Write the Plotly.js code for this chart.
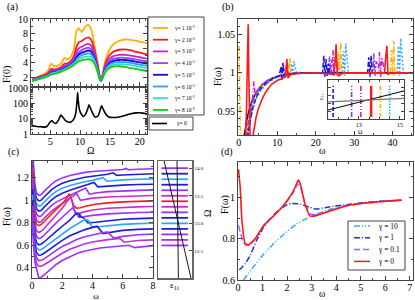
<!DOCTYPE html>
<html><head><meta charset="utf-8">
<script src="https://cdn.plot.ly/plotly-3.0.1.min.js"></script>
<style>html,body{margin:0;padding:0;background:#fff}#plot{width:415px;height:300px}</style>
</head><body><div id="plot"></div>
<script>
// ---------- panel (a) ----------
const OMEGA_A = [2,3,4,4.6,5.2,5.6,6.2,6.8,7.4,7.8,8.4,9,9.4,9.8,10.3,10.8,11.4,11.9,12.4,12.9,13.3,13.5,13.8,14.2,14.8,15.5,16.5,17.5,18.5,19.5,20.5,21.2];
const F_A_1 = [1.75,2.15,2.5,2.9,3.9,3.6,3.6,3.9,4.7,4.5,4.8,6.0,8.3,8.7,8.2,8.9,9.2,8.5,6.5,4.2,2.2,1.55,2.6,4.2,5.6,6.5,7.0,7.2,7.15,7.0,6.8,6.7];
const F_A_2 = [1.7,2.05,2.35,2.6,3.2,3.1,3.2,3.4,3.9,3.9,4.2,5.0,6.2,6.8,7.0,7.3,7.5,7.1,5.8,3.9,2.1,1.55,2.4,3.8,4.9,5.5,5.8,5.85,5.7,5.5,5.3,5.15];
const F_A_3 = [1.65,2.0,2.25,2.5,2.95,2.95,3.05,3.25,3.6,3.7,4.0,4.6,5.5,6.0,6.2,6.45,6.6,6.3,5.3,3.6,2.0,1.55,2.3,3.5,4.4,4.9,5.1,5.1,5.0,4.85,4.7,4.6];
const F_A_4 = [1.6,1.95,2.2,2.4,2.8,2.85,2.95,3.15,3.45,3.55,3.85,4.4,5.1,5.5,5.75,5.95,6.1,5.85,4.95,3.45,1.95,1.55,2.2,3.3,4.1,4.55,4.7,4.7,4.6,4.45,4.3,4.2];
const F_A_5 = [1.6,1.9,2.15,2.35,2.7,2.75,2.85,3.05,3.3,3.45,3.75,4.2,4.75,5.15,5.4,5.55,5.7,5.5,4.7,3.3,1.9,1.55,2.15,3.15,3.85,4.25,4.4,4.4,4.3,4.15,4.0,3.9];
const F_A_6 = [1.55,1.85,2.1,2.3,2.6,2.65,2.8,2.95,3.2,3.35,3.65,4.05,4.45,4.8,5.05,5.2,5.3,5.15,4.45,3.15,1.85,1.55,2.1,3.0,3.65,4.0,4.1,4.1,4.0,3.85,3.7,3.6];
const F_A_7 = [1.55,1.8,2.05,2.25,2.5,2.6,2.7,2.9,3.1,3.25,3.55,3.9,4.2,4.5,4.7,4.85,4.9,4.8,4.2,3.0,1.8,1.55,2.05,2.85,3.45,3.75,3.85,3.8,3.7,3.55,3.4,3.3];
const F_A_8 = [1.5,1.75,2.0,2.2,2.4,2.5,2.6,2.8,3.0,3.15,3.4,3.75,4.0,4.2,4.35,4.45,4.5,4.4,3.95,2.85,1.75,1.55,2.0,2.7,3.25,3.5,3.55,3.45,3.3,3.15,3.0,2.9];
const GAMMA_A_LABELS = ['1','2','3','4','5','6','7','8'];
const OMEGA_A0 = [1.9,2.5,3,3.5,4,4.5,5,5.3,5.6,6,6.4,6.8,7.1,7.5,8,8.5,9,9.3,9.5,9.6,9.7,9.9,10.2,10.6,11,11.3,11.5,11.7,12,12.5,13,13.3,13.6,13.9,14.3,14.8,15.5,16.5,17.5,18.5,19.5,20.5,21.2];
const F_A0 = [3.5,3.2,3.0,3.0,2.8,3.2,6,7.5,5.5,5,8,17,13,8,6,6,10,25,150,500,150,40,20,14,22,45,80,55,28,13,15,30,68,40,20,13,12,13,16,21,24,23,21];

// ---------- panel (b) ----------
const W_B_BLACK = [1.3,1.8,2.3,2.9,3.6,4.5,5.5,6.5,8,10,12,15,20,30,45.3];
const F_B_BLACK = [0.915,0.93,0.944,0.955,0.965,0.974,0.981,0.986,0.991,0.995,0.997,0.999,1.0,1.0,1.0];
const W_B_RED = [1.6,2.0,2.3,2.45,2.6,2.8,3.0,3.5,4.0,4.5,5,6,7,8.5,10,11.5,12.2,12.5,12.8,13.3,15,20,24.6,25.0,25.3,25.6,26.0,27,35,37.9,38.2,38.5,38.8,39.5,42,45.3];
const F_B_RED = [0.90,0.95,1.03,1.063,1.0,0.92,0.90,0.912,0.93,0.942,0.952,0.965,0.975,0.985,0.99,0.993,0.995,1.018,0.993,0.997,0.999,1.0,0.998,1.01,1.037,0.998,0.996,1.0,1.0,1.0,1.02,1.035,0.998,1.0,1.0,1.0];
const W_B_BLUE = [2.2,2.8,3.5,4.3,5.2,6.3,7.5,9,10.5,11.0,11.2,11.5,11.8,12.5,14,16,20,21.8,22.1,22.4,22.7,23.0,23.3,23.6,25,30,33.5,33.8,34.1,34.4,34.7,36,40,45.3];
const F_B_BLUE = [0.915,0.935,0.952,0.965,0.975,0.983,0.988,0.993,0.996,1.008,0.99,1.013,0.994,0.998,0.999,1.0,1.0,1.0,1.022,0.995,1.018,0.996,1.012,1.0,1.0,1.0,1.0,1.02,0.995,1.022,1.0,1.0,1.0,1.0];
const W_B_PURPLE = [2.0,2.6,3.2,4,5,6,7.5,9,11,11.7,12.0,12.3,13,16,22,23.3,23.6,23.9,24.2,25,30,34.8,35.1,35.4,35.7,37,45.3];
const F_B_PURPLE = [0.915,0.94,0.956,0.968,0.978,0.985,0.99,0.994,0.997,1.01,0.995,1.008,0.999,1.0,1.0,1.0,1.021,0.997,1.017,1.0,1.0,1.0,1.025,0.996,1.015,1.0,1.0];
const W_B_MAGENTA = [2.3,2.9,3.5,3.9,4.2,4.5,5,6,7.5,9,11,14,20,24.2,24.5,24.8,25.1,26,30,36.3,36.6,36.9,37.2,38,45.3];
const F_B_MAGENTA = [0.915,0.94,0.96,0.99,0.975,0.97,0.976,0.984,0.99,0.994,0.997,0.999,1.0,1.0,1.03,0.996,1.02,1.0,1.0,1.0,1.027,0.995,1.02,1.0,1.0];
const W_B_GOLD = [0.05,0.25,0.5,1.9,2.5,3.2,4.1,5.2,6.5,8,10,12.4,12.7,13.0,13.3,13.6,14.5,20,25.6,25.9,26.2,26.5,26.8,28,30,39.4,39.7,40.0,40.3,40.6,42,45.3];
const F_B_GOLD = [1.035,0.98,0.90,0.915,0.94,0.956,0.968,0.978,0.985,0.99,0.995,0.998,1.012,0.996,1.019,0.998,1.0,1.0,1.0,1.025,0.996,1.04,0.998,1.0,1.0,1.0,1.03,0.996,1.042,0.998,1.0,1.0];
const W_B_LBLUE = [2.4,3.0,3.7,4.6,5.6,7,8.5,10,12,13.4,13.7,14.0,14.3,15,20,26.9,27.2,27.5,27.8,28.5,35,41.2,41.5,41.8,42.1,42.8,45.3];
const F_B_LBLUE = [0.915,0.937,0.953,0.966,0.976,0.985,0.99,0.994,0.997,0.999,1.012,0.996,1.015,1.0,1.0,1.0,1.028,0.996,1.038,1.0,1.0,1.0,1.035,0.996,1.045,1.0,1.0];
// inset of (b)
const INSET_OMEGA = [11.75,12.65,13.1,13.6,14.05,14.5];
const INSET_LINE_X = [11.5,15.2];
const INSET_EPS_A = [0.23,0.72];
const INSET_EPS_B = [0.44,0.53];
const INSET_BAR_Y = [0.05,0.85];

// ---------- panel (c) ----------
const OMEGA_C = [14.0,13.9,13.8,13.7,13.6,13.5,13.4,13.3,13.2,13.1,13.0,12.9,12.8,12.7,12.6];
const W_C = [
 [0.03,0.1,0.2,0.3,0.45,0.6,0.8,1.0,1.3,1.6,2.0,2.5,3.0,3.5,4.0,5.0,6.0,6.2,6.4,7.0,8.0],
 [0.03,0.1,0.2,0.3,0.45,0.6,0.8,1.0,1.3,1.6,2.0,2.5,3.0,3.5,4.0,4.5,5.0,5.35,5.6,6.0,7.0,8.0],
 [0.03,0.1,0.2,0.3,0.45,0.6,0.8,1.0,1.3,1.6,2.0,2.5,3.0,3.5,4.0,4.4,4.7,4.95,5.5,6.0,7.0,8.0],
 [0.03,0.1,0.2,0.3,0.45,0.6,0.8,1.0,1.3,1.6,2.0,2.5,3.0,3.5,3.8,4.1,4.35,5.0,6.0,7.0,8.0],
 [0.03,0.1,0.2,0.3,0.45,0.6,0.8,1.0,1.3,1.6,2.0,2.5,3.0,3.3,3.55,3.8,4.2,5.0,6.0,7.0,8.0],
 [0.03,0.1,0.2,0.3,0.45,0.6,0.8,1.0,1.3,1.6,2.0,2.4,2.7,2.95,3.2,3.5,4.0,5.0,6.0,7.0,8.0],
 [0.03,0.1,0.2,0.3,0.45,0.6,0.8,1.0,1.3,1.6,2.0,2.25,2.45,2.55,2.75,2.95,3.2,3.6,4.2,5.0,6.0,7.0,8.0],
 [0.03,0.1,0.2,0.3,0.45,0.6,0.8,1.0,1.3,1.6,2.0,2.3,2.55,2.85,3.1,3.5,4.0,5.0,6.0,7.0,8.0],
 [0.03,0.1,0.2,0.3,0.45,0.6,0.8,1.0,1.3,1.6,2.0,2.4,2.7,2.85,3.1,3.4,4.0,5.0,6.0,7.0,8.0],
 [0.03,0.1,0.2,0.3,0.45,0.6,0.8,1.0,1.3,1.6,2.0,2.5,2.85,3.0,3.2,3.1,3.4,3.7,4.2,5.0,6.0,7.0,8.0],
 [0.03,0.1,0.2,0.3,0.45,0.6,0.8,1.0,1.3,1.6,2.0,2.5,3.0,3.5,3.7,4.0,4.4,5.0,6.0,7.0,8.0],
 [0.03,0.1,0.2,0.3,0.45,0.6,0.8,1.0,1.3,1.6,2.0,2.5,3.0,3.5,4.0,4.3,4.7,5.2,6.0,7.0,8.0],
 [0.03,0.1,0.2,0.3,0.45,0.6,0.8,1.0,1.3,1.6,2.0,2.5,3.0,3.5,4.0,4.5,5.0,5.4,6.0,7.0,8.0],
 [0.03,0.1,0.2,0.3,0.45,0.6,0.8,1.0,1.3,1.6,2.0,2.5,3.0,3.5,4.0,4.5,5.0,5.5,5.8,6.1,7.0,8.0],
 [0.03,0.1,0.2,0.3,0.45,0.6,0.8,1.0,1.3,1.6,2.0,2.5,3.0,3.5,4.0,4.5,5.0,5.5,6.0,6.4,6.8,7.3,8.0]
];
const F_C = [
 [1.55,1.3,1.13,1.065,1.045,1.05,1.08,1.11,1.145,1.175,1.2,1.222,1.238,1.249,1.256,1.266,1.275,1.284,1.272,1.277,1.281],
 [1.5,1.25,1.08,1.015,0.995,1.0,1.03,1.06,1.095,1.125,1.152,1.175,1.192,1.205,1.215,1.223,1.232,1.245,1.222,1.226,1.232,1.236],
 [1.45,1.2,1.035,0.97,0.95,0.955,0.985,1.015,1.05,1.08,1.108,1.132,1.15,1.165,1.178,1.188,1.202,1.17,1.177,1.182,1.188,1.191],
 [1.4,1.15,0.99,0.925,0.905,0.91,0.94,0.97,1.005,1.035,1.063,1.09,1.11,1.13,1.145,1.16,1.12,1.128,1.136,1.141,1.144],
 [1.35,1.1,0.94,0.875,0.855,0.86,0.89,0.92,0.955,0.985,1.015,1.045,1.075,1.095,1.11,1.055,1.065,1.078,1.085,1.09,1.093],
 [1.3,1.05,0.89,0.825,0.805,0.81,0.84,0.87,0.905,0.935,0.97,1.005,1.035,1.06,1.0,1.01,1.02,1.03,1.036,1.04,1.043],
 [1.25,1.0,0.84,0.785,0.775,0.785,0.81,0.84,0.88,0.92,0.97,1.01,1.055,1.04,0.955,0.93,0.935,0.95,0.965,0.978,0.987,0.993,0.996],
 [1.2,0.95,0.79,0.73,0.715,0.725,0.75,0.78,0.825,0.87,0.93,0.985,1.035,0.89,0.885,0.9,0.915,0.93,0.938,0.942,0.945],
 [1.15,0.9,0.74,0.68,0.66,0.668,0.69,0.72,0.76,0.8,0.85,0.9,0.935,0.9,0.85,0.855,0.867,0.88,0.888,0.892,0.895],
 [1.1,0.85,0.69,0.625,0.605,0.61,0.63,0.655,0.69,0.725,0.77,0.825,0.875,0.885,0.87,0.86,0.845,0.8,0.805,0.82,0.832,0.838,0.842],
 [1.05,0.8,0.645,0.58,0.56,0.563,0.58,0.6,0.635,0.665,0.705,0.75,0.79,0.83,0.825,0.76,0.765,0.775,0.787,0.793,0.797],
 [1.0,0.75,0.6,0.535,0.512,0.514,0.53,0.55,0.58,0.61,0.645,0.685,0.715,0.74,0.76,0.77,0.705,0.715,0.733,0.742,0.747],
 [0.95,0.7,0.555,0.49,0.465,0.466,0.48,0.5,0.528,0.555,0.59,0.625,0.655,0.677,0.695,0.708,0.72,0.665,0.68,0.694,0.70],
 [0.9,0.65,0.505,0.44,0.415,0.415,0.428,0.446,0.472,0.498,0.53,0.565,0.593,0.614,0.63,0.642,0.651,0.658,0.662,0.628,0.643,0.649],
 [0.85,0.6,0.45,0.38,0.31,0.315,0.335,0.36,0.395,0.43,0.465,0.5,0.53,0.55,0.565,0.576,0.584,0.59,0.596,0.601,0.58,0.59,0.598]
];
const SIDE_LINE_X = [0.1,0.88];
const EPS_C_A_X = [0.18,0.97];
const EPS_C_B_X = [0.56,0.60];
const EPS_C_Y = [14.13,12.01];

// ---------- panel (d) ----------
const W_D_0 = [0.02,0.09,0.16,0.29,0.43,0.7,1.04,1.4,1.72,2.0,2.26,2.46,2.53,2.73,2.93,3.14,3.75,4.43,5.1,5.78,6.66];
const F_D_0 = [1.137,1.048,0.887,0.777,0.77,0.8,0.863,0.905,0.943,0.984,1.032,1.084,1.07,0.968,0.911,0.911,0.935,0.96,0.972,0.98,0.987];
const W_D_01 = [0.02,0.1,0.2,0.3,0.45,0.7,1.04,1.4,1.72,2.0,2.26,2.43,2.53,2.73,2.93,3.14,3.75,4.43,5.1,5.78,6.66];
const F_D_01 = [0.865,0.83,0.79,0.77,0.77,0.8,0.863,0.905,0.943,0.982,1.025,1.065,1.055,0.97,0.92,0.918,0.937,0.96,0.972,0.98,0.987];
const W_D_1 = [0.05,0.3,0.5,0.75,1.04,1.4,1.72,2.0,2.2,2.53,2.93,3.2,3.75,4.43,5.1,5.78,6.66];
const F_D_1 = [0.648,0.68,0.72,0.79,0.855,0.91,0.945,0.965,0.971,0.968,0.952,0.944,0.955,0.965,0.975,0.982,0.987];
const W_D_10 = [0.22,0.6,1.04,1.4,1.72,2.0,2.39,2.7,3.07,3.4,3.75,4.43,5.1,5.78,6.66];
const F_D_10 = [0.6,0.66,0.725,0.77,0.806,0.835,0.871,0.893,0.911,0.928,0.943,0.96,0.972,0.98,0.987];
const GAMMA_D_LABELS = ['10','1','0.1','0'];

// ---------- styling ----------
const FONT = 'Liberation Serif';
const COL_A = ['#ffb000','#ff1a1a','#cc22cc','#9a40ff','#1010d0','#3399ff','#33ddcc','#11cc11'];
const COL_C = ['#9a33ff','#1f1fd0','#2aa8ff','#1f1fd0','#9a33ff','#c030d0','#ff1a1a','#c030d0','#9a33ff','#1f1fd0','#2aa8ff','#1f1fd0','#9a33ff','#c030d0','#9a33ff'];
const COL_D = ['#33aaff','#2233dd','#9966ff','#ff1a1a'];
const DASH_D = ['6px,2px,1px,2px,1px,2px','6px,2px,1px,2px','6px,3px','solid'];

const traces = [];
const FA = [F_A_1,F_A_2,F_A_3,F_A_4,F_A_5,F_A_6,F_A_7,F_A_8];
FA.forEach((f,i)=>traces.push({x:OMEGA_A,y:f,xaxis:'x',yaxis:'y',mode:'lines',line:{color:COL_A[i],width:1.8,shape:'spline',smoothing:0.6}}));
traces.push({x:OMEGA_A0,y:F_A0,xaxis:'x2',yaxis:'y2',mode:'lines',line:{color:'#000',width:1.6,shape:'spline',smoothing:0.5}});

traces.push({x:W_B_BLACK,y:F_B_BLACK,xaxis:'x3',yaxis:'y3',mode:'lines',line:{color:'#000',width:1.5}});
traces.push({x:W_B_LBLUE,y:F_B_LBLUE,xaxis:'x3',yaxis:'y3',mode:'lines',line:{color:'#33aaff',width:1.5,dash:'2px,2px'}});
traces.push({x:W_B_GOLD,y:F_B_GOLD,xaxis:'x3',yaxis:'y3',mode:'lines',line:{color:'#ffb300',width:1.5,dash:'5px,2px,1px,2px'}});
traces.push({x:W_B_MAGENTA,y:F_B_MAGENTA,xaxis:'x3',yaxis:'y3',mode:'lines',line:{color:'#cc22cc',width:1.5,dash:'5px,2px,1px,2px,1px,2px'}});
traces.push({x:W_B_PURPLE,y:F_B_PURPLE,xaxis:'x3',yaxis:'y3',mode:'lines',line:{color:'#9933ff',width:1.5,dash:'6px,2px,2px,2px'}});
traces.push({x:W_B_BLUE,y:F_B_BLUE,xaxis:'x3',yaxis:'y3',mode:'lines',line:{color:'#1a1ad0',width:1.5,dash:'5px,2px'}});
traces.push({x:W_B_RED,y:F_B_RED,xaxis:'x3',yaxis:'y3',mode:'lines',line:{color:'#ff1a1a',width:1.6}});
// inset
const INSET_COL = ['#1a1ad0','#9933ff','#cc22cc','#ff1a1a','#ffb300','#33aaff'];
const INSET_DASH = ['4px,2px','5px,2px,1px,2px','5px,2px,1px,2px,1px,2px','solid','4px,2px,1px,2px','1.5px,1.5px'];
INSET_OMEGA.forEach((o,i)=>traces.push({x:[o,o],y:INSET_BAR_Y,xaxis:'x4',yaxis:'y4',mode:'lines',line:{color:INSET_COL[i],width:i===3?2.5:1.6,dash:INSET_DASH[i]}}));
traces.push({x:INSET_LINE_X,y:INSET_EPS_A,xaxis:'x4',yaxis:'y4',mode:'lines',line:{color:'#000',width:1}});
traces.push({x:INSET_LINE_X,y:INSET_EPS_B,xaxis:'x4',yaxis:'y4',mode:'lines',line:{color:'#777',width:1.2}});

// (c)
W_C.forEach((w,i)=>traces.push({x:w,y:F_C[i],xaxis:'x5',yaxis:'y5',mode:'lines',line:{color:COL_C[i],width:1.6}}));
OMEGA_C.forEach((o,i)=>traces.push({x:SIDE_LINE_X,y:[o,o],xaxis:'x6',yaxis:'y6',mode:'lines',line:{color:COL_C[i],width:1.8}}));
traces.push({x:EPS_C_A_X,y:EPS_C_Y,xaxis:'x6',yaxis:'y6',mode:'lines',line:{color:'#000',width:0.9}});
traces.push({x:EPS_C_B_X,y:EPS_C_Y,xaxis:'x6',yaxis:'y6',mode:'lines',line:{color:'#000',width:0.9}});

// (d)
[[W_D_10,F_D_10],[W_D_1,F_D_1],[W_D_01,F_D_01],[W_D_0,F_D_0]].forEach((p,i)=>traces.push({x:p[0],y:p[1],xaxis:'x7',yaxis:'y7',mode:'lines',line:{color:COL_D[i],width:i===3?1.6:1.5,dash:DASH_D[i],shape:'spline',smoothing:0.4}}));

traces.forEach(t=>{t.showlegend=false;t.hoverinfo='skip';});

function ax(o){
  return Object.assign({showgrid:false,zeroline:false,showline:true,linecolor:'#444',linewidth:1,mirror:'allticks',
    ticks:'inside',ticklen:4,tickcolor:'#444',tickfont:{family:FONT,size:10,color:'#000'},
    minor:{ticks:'inside',ticklen:2,tickcolor:'#444',showgrid:false}},o);
}
const P = (px)=>px/415, Q=(py)=>1-py/300;

const layout = {
  width:415,height:300,margin:{l:0,r:0,t:0,b:0},paper_bgcolor:'#fff',plot_bgcolor:'#fff',showlegend:false,
  font:{family:FONT,size:10,color:'#000'},
  xaxis: ax({anchor:'y',domain:[P(31),P(147)],range:[1.8,21.2],dtick:5,tick0:0,showticklabels:false,minor:{ticks:'inside',ticklen:2,tickcolor:'#444',dtick:1}}),
  yaxis: ax({anchor:'x',domain:[Q(86),Q(19)],range:[0.85,10],dtick:2,tick0:0,minor:{ticks:'inside',ticklen:2,tickcolor:'#444',dtick:1}}),
  xaxis2: ax({anchor:'y2',domain:[P(31),P(147)],range:[1.8,21.2],dtick:5,tick0:0,ticklabelstandoff:-2,minor:{ticks:'inside',ticklen:2,tickcolor:'#444',dtick:1}}),
  yaxis2: ax({anchor:'x2',domain:[Q(134),Q(88)],type:'log',range:[0,3],tickvals:[1,10,100,1000],ticktext:['1','10','100','1000'],
      minor:{ticks:'inside',ticklen:2,tickcolor:'#444',tickvals:[2,3,4,5,6,7,8,9,20,30,40,50,60,70,80,90,200,300,400,500,600,700,800,900]}}),
  xaxis3: ax({anchor:'y3',domain:[P(238),P(413)],range:[-0.2,45.3],dtick:10,tick0:0,ticklabelstandoff:-2,minor:{ticks:'inside',ticklen:2,tickcolor:'#444',dtick:5}}),
  yaxis3: ax({anchor:'x3',domain:[Q(135),Q(19)],range:[0.919,1.07],tickvals:[0.95,1,1.05],ticktext:['0.95','1','1.05'],minor:{ticks:'inside',ticklen:2,tickcolor:'#444',dtick:0.01,tick0:0}}),
  xaxis4: ax({anchor:'y4',domain:[P(328),P(404)],range:[11.5,15.2],tickvals:[13,15],ticktext:['13','15'],ticklen:3,tickfont:{family:FONT,size:6,color:'#000'},minor:{ticks:'inside',ticklen:2,tickcolor:'#444',dtick:0.5,tick0:0}}),
  yaxis4: ax({anchor:'x4',domain:[Q(119),Q(80)],range:[0,1],dtick:0.2,tick0:0,ticklen:3,showticklabels:false,minor:{ticks:'',showgrid:false}}),
  xaxis5: ax({anchor:'y5',domain:[P(32),P(153)],range:[0,8],dtick:2,tick0:0,ticklabelstandoff:-2,minor:{ticks:'inside',ticklen:2,tickcolor:'#444',dtick:1}}),
  yaxis5: ax({anchor:'x5',domain:[Q(278),Q(161)],range:[0.31,1.35],tickvals:[0.4,0.6,0.8,1,1.2],ticktext:['0.4','0.6','0.8','1','1.2'],minor:{ticks:'inside',ticklen:2,tickcolor:'#444',dtick:0.1,tick0:0}}),
  xaxis6: ax({anchor:'y6',domain:[P(158),P(192)],range:[0,1],showticklabels:false,ticks:'',mirror:true,linecolor:'#666',linewidth:1.5,minor:{ticks:''}}),
  yaxis6: ax({anchor:'x6',domain:[Q(278),Q(161)],range:[12.01,14.13],side:'right',tickvals:[12.5,13,13.5,14],ticktext:['12.5','13.0','13.5','14.0'],ticklen:3,
      tickfont:{family:FONT,size:5,color:'#000'},mirror:true,linecolor:'#666',linewidth:1.5,minor:{ticks:''}}),
  xaxis7: ax({anchor:'y7',domain:[P(238),P(413)],range:[0,7.13],dtick:1,tick0:0,ticklabelstandoff:-2,minor:{ticks:'inside',ticklen:2,tickcolor:'#444',dtick:0.5}}),
  yaxis7: ax({anchor:'x7',domain:[Q(280),Q(162)],range:[0.6,1.172],tickvals:[0.6,0.8,1],ticktext:['0.6','0.8','1'],minor:{ticks:'inside',ticklen:2,tickcolor:'#444',dtick:0.1,tick0:0}}),
  shapes:[], annotations:[]
};

function ann(text,px,py,size,extra){
  layout.annotations.push(Object.assign({text:text,x:P(px),y:Q(py),xref:'paper',yref:'paper',showarrow:false,
    font:{family:FONT,size:size,color:'#000'},xanchor:'center',yanchor:'middle'},extra||{}));
}
// panel labels
ann('(a)',12,7,10); ann('(b)',228,7,10); ann('(c)',13,152,10); ann('(d)',227,152,10);
// axis titles
ann('F(0)',7,75,10,{textangle:-90});
ann('Ω',90,150,10);
ann('F(ω)',218,77,10,{textangle:-90});
ann('ω',322,150,10);
ann('F(ω)',7,217,10,{textangle:-90});
ann('ω',96,295.5,9);
ann('ε<sub>1i</sub>',174,285,9);
ann('Ω',207,214,10,{textangle:-90});
ann('F(ω)',225,205,10,{textangle:-90});
ann('ω',322,294,9.5);
// inset labels
ann('ε<sub>1i</sub>',322,97,6,{textangle:-90});
ann('Ω',360,132,6);

// legend (a)
layout.shapes.push({type:'rect',xref:'paper',yref:'paper',x0:P(148),x1:P(204),y0:Q(115),y1:Q(17),line:{color:'#444',width:1},fillcolor:'rgba(0,0,0,0)'});
GAMMA_A_LABELS.forEach((g,i)=>{
  const py = 28 + i*11.7;
  layout.shapes.push({type:'line',xref:'paper',yref:'paper',x0:P(153),x1:P(168),y0:Q(py),y1:Q(py),line:{color:COL_A[i],width:1.8}});
  ann('γ= '+g+' 10<sup>-3</sup>',172,py,5.5,{xanchor:'left'});
});
layout.shapes.push({type:'rect',xref:'paper',yref:'paper',x0:P(149),x1:P(193),y0:Q(130),y1:Q(117),line:{color:'#444',width:1},fillcolor:'rgba(0,0,0,0)'});
layout.shapes.push({type:'line',xref:'paper',yref:'paper',x0:P(152),x1:P(167),y0:Q(123.5),y1:Q(123.5),line:{color:'#000',width:1.6}});
ann('γ= 0',174,123.5,5.5,{xanchor:'left'});

// legend (d)
layout.shapes.push({type:'rect',xref:'paper',yref:'paper',x0:P(348),x1:P(405),y0:Q(270),y1:Q(221),line:{color:'#444',width:1},fillcolor:'#fff'});
GAMMA_D_LABELS.forEach((g,i)=>{
  const py = 226 + i*11.8;
  layout.shapes.push({type:'line',xref:'paper',yref:'paper',x0:P(354),x1:P(370),y0:Q(py),y1:Q(py),line:{color:COL_D[i],width:1.5,dash:DASH_D[i]}});
  ann('γ = '+g,376,py,7.5,{xanchor:'left'});
});

Plotly.newPlot('plot',traces,layout,{staticPlot:true,displayModeBar:false});
</script></body></html>
